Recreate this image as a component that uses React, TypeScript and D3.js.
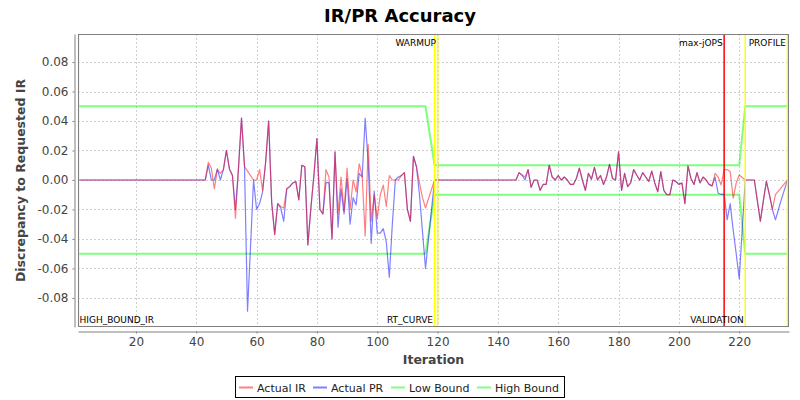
import React, { useRef, useEffect } from "react";
import * as d3 from "d3";

// iterations that carry a reading; flat zero stretches keep only their end points
const iterations = [
  1, 43,
  44, 45, 46, 47, 48, 49, 50, 51, 52, 53,
  54, 55, 56, 57, 58, 59, 60, 61, 62, 63,
  64, 65, 66, 67, 68, 69, 70, 71, 72, 73,
  74, 75, 76, 77, 78, 79, 80, 81, 82, 83,
  84, 85, 86, 87, 88, 89, 90, 91, 92, 93,
  94, 95, 96, 97, 98, 99, 100, 101, 102, 103,
  104, 105, 106, 107, 108, 109, 110, 111, 112, 113,
  114, 115, 116,
  119, 146,
  147, 148, 149, 150, 151, 152, 153, 154, 155, 156,
  157, 158, 159, 160, 161, 162, 163, 164, 165, 166,
  167, 168, 169, 170, 171, 172, 173, 174, 175, 176,
  177, 178, 179, 180, 181, 182, 183, 184, 185, 186,
  187, 188, 189, 190, 191, 192, 193, 194, 195, 196,
  197, 198, 199, 200, 201, 202, 203, 204, 205, 206,
  207, 208, 209, 210, 211, 212, 213, 214, 215, 216,
  217, 218, 219, 220,
  222, 225,
  226, 227, 228, 229, 230, 231, 232, 233, 234, 235, 236,
];

const actualIR = [
  0, 0,
  0.012, 0.008, -0.006, 0.007, 0.0045, 0.007, 0.02, 0.0075, 0.003, -0.026,
  0.008, 0.042, 0.009, 0.006, 0.003, 0, 0, 0.007, -0.007, 0.012,
  0.04, -0.015, -0.037, -0.016, -0.018, -0.019, -0.006, -0.0045, -0.002, -0.001,
  -0.0135, 0.01, 0.009, -0.044, -0.019, 0.003, 0.028, -0.02, -0.023, 0.007,
  0.002, -0.04, 0.019, -0.023, 0.002, -0.021, 0.008, -0.02, 0, -0.008,
  0.011, 0.003, -0.038, 0.024, -0.028, -0.01, -0.026, -0.01, -0.0034, -0.018,
  0.003, 0, 0, 0, 0.003, 0.005, -0.02, -0.028, 0.016, 0.009,
  -0.002, -0.012, -0.019,
  0, 0,
  0.005, 0.0034, 0.002, 0.007, -0.005, 0, 0, -0.007, -0.003, -0.003,
  0.01, 0.002, 0, 0.003, 0, 0.002, 0, -0.003, -0.003, 0.001,
  0.008, 0, -0.007, 0.0045, 0.0005, 0.0086, 0, 0.003, -0.003, 0.002,
  0.0106, 0.001, 0, 0.019, -0.007, 0.0045, -0.0045, -0.002, 0.007, 0.0034,
  0, 0.005, 0.002, -0.001, 0.006, -0.002, -0.008, 0.0057, -0.007, -0.01,
  -0.01, 0, -0.001, -0.003, -0.002, -0.016, 0.0095, 0.001, -0.003, 0.005,
  -0.002, 0.002, 0, -0.003, -0.004, 0.0045, 0.002, -0.0034, 0.007, 0.007,
  0.0057, -0.0124, -0.002, 0.0034,
  0, 0,
  -0.014, -0.028, -0.014, -0.001, -0.01, -0.02, -0.01, -0.0075, -0.005, -0.0025, 0,
];

const actualPR = [
  0, 0,
  0.01, 0, 0, 0.0075, 0, 0.007, 0.02, 0.0075, 0.003, -0.02,
  0.008, 0.042, 0.009, -0.089, -0.045, 0, -0.02, -0.016, -0.008, 0.012,
  0.04, -0.015, -0.037, -0.016, -0.019, -0.028, -0.006, -0.0045, -0.002, -0.001,
  -0.0135, 0.01, 0.009, -0.044, -0.019, 0.003, 0.028, -0.02, -0.023, -0.0016,
  -0.002, -0.04, 0.019, -0.032, -0.006, -0.023, 0.001, -0.03, -0.012, -0.017,
  0.0045, 0.002, 0.042, 0.012, -0.043, -0.0075, -0.036, -0.036, -0.033, -0.042,
  -0.066, -0.03, 0, 0.002, 0.003, 0.005, -0.02, -0.028, 0.016, 0.009,
  -0.01, -0.035, -0.06,
  0, 0,
  0.005, 0.0034, 0, 0.007, -0.005, 0, 0, -0.007, -0.003, -0.003,
  0.01, 0.002, 0, 0.003, 0, 0.002, 0, -0.003, -0.003, 0.001,
  0.008, 0, -0.007, 0.0045, 0.0005, 0.0086, 0, 0.003, -0.003, 0.002,
  0.0106, 0.001, 0, 0.019, -0.007, 0.0045, -0.0045, -0.002, 0.007, 0.0034,
  0, 0.005, 0.002, -0.001, 0.006, -0.002, -0.008, 0.0057, -0.007, -0.01,
  -0.01, 0, -0.001, -0.003, -0.002, -0.016, 0.0095, 0.001, -0.003, 0.005,
  -0.002, 0.002, 0, -0.003, -0.004, 0.002, -0.009, -0.0097, -0.0097, -0.027,
  -0.016, -0.034, -0.05, -0.067,
  0, 0,
  -0.014, -0.028, -0.014, -0.001, -0.01, -0.02, -0.027, -0.02, -0.013, -0.0065, 0,
];

const boundIterations = [1, 116, 119, 220, 222, 236];
const lowBound = [-0.05, -0.05, -0.01, -0.01, -0.05, -0.05];
const highBound = [0.05, 0.05, 0.01, 0.01, 0.05, 0.05];

const markerNames = ["HIGH_BOUND_IR", "RT_CURVE", "WARMUP", "max-jOPS", "VALIDATION", "PROFILE"];
const markerIterations = [1, 119, 120, 215, 222, 236];

const xTicks = [20, 40, 60, 80, 100, 120, 140, 160, 180, 200, 220];
const yTicks = [-0.08, -0.06, -0.04, -0.02, 0, 0.02, 0.04, 0.06, 0.08];

const legendNames = ["Actual IR", "Actual PR", "Low Bound", "High Bound"];

// styles, kept apart from the values
const markerStyle: Record<string, { color: string; top: boolean; anchor: string }> = {
  HIGH_BOUND_IR: { color: "#ffff00", top: false, anchor: "start" },
  RT_CURVE: { color: "#ffff00", top: false, anchor: "end" },
  WARMUP: { color: "#ffff00", top: true, anchor: "end" },
  "max-jOPS": { color: "#ff0000", top: true, anchor: "end" },
  VALIDATION: { color: "#ffff00", top: false, anchor: "end" },
  PROFILE: { color: "#ffff00", top: true, anchor: "end" },
};
const legendColors = ["#ff8080", "#8080ff", "#80ff80", "#80ff80"];
const legendSwatchX = [239, 313, 391, 477];

const App: React.FC = () => {
  const svgRef = useRef<SVGSVGElement>(null);
  const width = 800;
  const height = 400;

  useEffect(() => {
    if (!svgRef.current) return;
    const svg = d3.select(svgRef.current);
    svg.selectAll("*").remove();

    const plot = { left: 78, right: 789, top: 34, bottom: 327 };
    const font = "DejaVu Sans, Verdana, sans-serif";

    const xScale = d3.scaleLinear().domain([0.8, 236.5]).range([plot.left, plot.right]);
    const yScale = d3.scaleLinear().domain([-0.0997, 0.099]).range([plot.bottom, plot.top]);

    svg.append("rect").attr("width", width).attr("height", height).attr("fill", "#ffffff");

    // title
    svg
      .append("text")
      .attr("x", 400)
      .attr("y", 22)
      .attr("text-anchor", "middle")
      .attr("font-family", font)
      .attr("font-weight", "bold")
      .attr("font-size", 18)
      .text("IR/PR Accuracy");

    // grid
    const grid = svg.append("g").attr("stroke", "#d0d0d0").attr("stroke-dasharray", "2,2");
    grid
      .selectAll(".vgrid")
      .data(xTicks)
      .enter()
      .append("line")
      .attr("x1", (d) => Math.round(xScale(d)) + 0.5)
      .attr("x2", (d) => Math.round(xScale(d)) + 0.5)
      .attr("y1", plot.top)
      .attr("y2", plot.bottom);
    grid
      .selectAll(".hgrid")
      .data(yTicks)
      .enter()
      .append("line")
      .attr("x1", plot.left)
      .attr("x2", plot.right)
      .attr("y1", (d) => Math.round(yScale(d)) + 0.5)
      .attr("y2", (d) => Math.round(yScale(d)) + 0.5);

    // clip for series
    svg
      .append("clipPath")
      .attr("id", "plot-clip")
      .append("rect")
      .attr("x", plot.left)
      .attr("y", plot.top)
      .attr("width", plot.right - plot.left)
      .attr("height", plot.bottom - plot.top);

    const series = svg.append("g").attr("clip-path", "url(#plot-clip)");
    const line = d3
      .line<[number, number]>()
      .x((d) => xScale(d[0]))
      .y((d) => yScale(d[1]));

    const boundPts = (vals: number[]) => boundIterations.map((it, i) => [it, vals[i]] as [number, number]);
    const seriesPts = (vals: number[]) => iterations.map((it, i) => [it, vals[i]] as [number, number]);

    // reverse rendering order: last series first
    const layers: { pts: [number, number][]; color: string; w: number }[] = [
      { pts: boundPts(highBound), color: "#00ff00", w: 2 },
      { pts: boundPts(lowBound), color: "#00ff00", w: 2 },
      { pts: seriesPts(actualPR), color: "#0000ff", w: 1.2 },
      { pts: seriesPts(actualIR), color: "#ff0000", w: 1.2 },
    ];
    layers.forEach((l) => {
      series
        .append("path")
        .attr("d", line(l.pts))
        .attr("fill", "none")
        .attr("stroke", l.color)
        .attr("stroke-opacity", 0.5)
        .attr("stroke-width", l.w)
        .attr("stroke-linejoin", "round");
    });

    // markers
    const markers = svg.append("g");
    markerNames.forEach((name, i) => {
      const st = markerStyle[name];
      const mx = xScale(markerIterations[i]);
      markers
        .append("line")
        .attr("x1", mx)
        .attr("x2", mx)
        .attr("y1", plot.top)
        .attr("y2", plot.bottom)
        .attr("stroke", st.color)
        .attr("stroke-width", 1.5);
      markers
        .append("text")
        .attr("x", st.anchor === "start" ? mx + 1 : mx - 1.5)
        .attr("y", st.top ? plot.top + 12 : plot.bottom - 4)
        .attr("text-anchor", st.anchor)
        .attr("font-family", font)
        .attr("font-size", 9)
        .attr("fill", "#000000")
        .text(name);
    });

    // plot outline
    svg
      .append("rect")
      .attr("x", plot.left + 0.5)
      .attr("y", plot.top + 0.5)
      .attr("width", plot.right - plot.left - 1)
      .attr("height", plot.bottom - plot.top - 1)
      .attr("fill", "none")
      .attr("stroke", "#808080");

    // axes
    const yAxis = svg
      .append("g")
      .attr("transform", "translate(74.5,0)")
      .call(
        d3
          .axisLeft(yScale)
          .tickValues(yTicks)
          .tickSize(2)
          .tickSizeOuter(0)
          .tickPadding(4)
          .tickFormat((d) => (d as number).toFixed(2))
      );
    const xAxis = svg
      .append("g")
      .attr("transform", "translate(0,331.5)")
      .call(d3.axisBottom(xScale).tickValues(xTicks).tickSize(2).tickSizeOuter(0).tickPadding(4));
    [yAxis, xAxis].forEach((a) => {
      a.select(".domain").attr("stroke", "#808080");
      a.selectAll(".tick line").attr("stroke", "#808080");
      a.selectAll("text").attr("font-family", font).attr("font-size", 12).attr("fill", "#444444");
    });

    // axis titles
    svg
      .append("text")
      .attr("x", (plot.left + plot.right) / 2)
      .attr("y", 364)
      .attr("text-anchor", "middle")
      .attr("font-family", font)
      .attr("font-weight", "bold")
      .attr("font-size", 12.5)
      .attr("fill", "#444444")
      .text("Iteration");
    svg
      .append("text")
      .attr("transform", "rotate(-90)")
      .attr("x", -(plot.top + plot.bottom) / 2)
      .attr("y", 25)
      .attr("text-anchor", "middle")
      .attr("font-family", font)
      .attr("font-weight", "bold")
      .attr("font-size", 12.5)
      .attr("fill", "#444444")
      .text("Discrepancy to Requested IR");

    // legend
    const legend = svg.append("g");
    legend
      .append("rect")
      .attr("x", 235.5)
      .attr("y", 376.5)
      .attr("width", 329)
      .attr("height", 21)
      .attr("fill", "#ffffff")
      .attr("stroke", "#000000");
    legendNames.forEach((name, i) => {
      const lx = legendSwatchX[i];
      legend
        .append("line")
        .attr("x1", lx)
        .attr("x2", lx + 14)
        .attr("y1", 387.5)
        .attr("y2", 387.5)
        .attr("stroke", legendColors[i])
        .attr("stroke-width", 2);
      legend
        .append("text")
        .attr("x", lx + 18)
        .attr("y", 391.5)
        .attr("font-family", font)
        .attr("font-size", 11)
        .attr("fill", "#222222")
        .text(name);
    });
  }, []);

  return (
    <svg
      ref={svgRef}
      width={width}
      height={height}
      style={{ position: "absolute", left: 0, top: 0 }}
    ></svg>
  );
};

export default App;
